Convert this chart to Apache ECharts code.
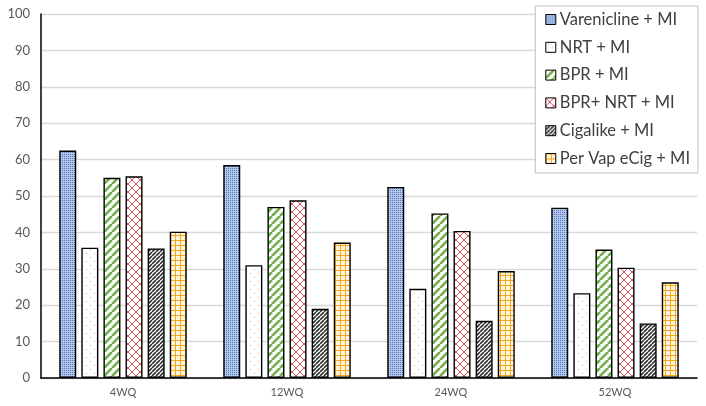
<!DOCTYPE html>
<html>
<head>
<meta charset="utf-8">
<script src="https://cdn.jsdelivr.net/npm/echarts@6/dist/echarts.min.js"></script>
<style>
  html, body { margin: 0; padding: 0; background: #fff; }
  #chart { width: 706px; height: 406px; }
</style>
</head>
<body>
<div id="chart"></div>
<script>
// categories and values
const categories = ['4WQ', '12WQ', '24WQ', '52WQ']
const seriesNames = ['Varenicline + MI', 'NRT + MI', 'BPR + MI', 'BPR+ NRT + MI', 'Cigalike + MI', 'Per Vap eCig + MI']
const vareniclineMI = [62.5, 58.5, 52.5, 46.8]
const nrtMI = [35.8, 31, 24.5, 23.3]
const bprMI = [55, 47, 45.2, 35.3]
const bprNrtMI = [55.4, 48.8, 40.4, 30.3]
const cigalikeMI = [35.6, 19, 15.7, 15]
const perVapMI = [40.2, 37.2, 29.4, 26.3]
const yTicks = [0, 10, 20, 30, 40, 50, 60, 70, 80, 90, 100]

// small canvases used as fill patterns (like the Excel pattern fills)
function makePattern(size, bg, draw) {
  const c = document.createElement('canvas')
  c.width = size
  c.height = size
  const ctx = c.getContext('2d')
  ctx.fillStyle = bg
  ctx.fillRect(0, 0, size, size)
  draw(ctx, size)
  return { image: c, repeat: 'repeat' }
}

const patterns = [
  // fine blue dots
  makePattern(2, '#b4c7e7', function (ctx) {
    ctx.fillStyle = '#4f76c6'
    ctx.fillRect(0, 0, 1, 1)
  }),
  // sparse orange dots on white
  makePattern(8, '#ffffff', function (ctx) {
    ctx.fillStyle = '#f0a060'
    ctx.fillRect(2, 1, 1, 1)
    ctx.fillRect(6, 5, 1, 1)
  }),
  // wide green diagonal stripes
  makePattern(8, '#ffffff', function (ctx, s) {
    ctx.strokeStyle = '#70ad47'
    ctx.lineWidth = 2.6
    ctx.beginPath()
    for (let k = -1; k <= 1; k++) {
      ctx.moveTo(k * s, s)
      ctx.lineTo(k * s + s, 0)
    }
    ctx.stroke()
  }),
  // red diagonal cross hatch
  makePattern(8, '#ffffff', function (ctx, s) {
    ctx.strokeStyle = '#d9535b'
    ctx.lineWidth = 1
    ctx.beginPath()
    ctx.moveTo(0, 0); ctx.lineTo(s, s)
    ctx.moveTo(0, s); ctx.lineTo(s, 0)
    ctx.stroke()
  }),
  // dense black diagonal stripes
  makePattern(4, '#ffffff', function (ctx, s) {
    ctx.strokeStyle = '#333333'
    ctx.lineWidth = 1.6
    ctx.beginPath()
    for (let k = -1; k <= 1; k++) {
      ctx.moveTo(k * s, s)
      ctx.lineTo(k * s + s, 0)
    }
    ctx.stroke()
  }),
  // orange grid
  makePattern(5, '#fff6dc', function (ctx, s) {
    ctx.fillStyle = '#f5a623'
    ctx.fillRect(0, 0, s, 1)
    ctx.fillRect(0, 0, 1, s)
  })
]

const values = [vareniclineMI, nrtMI, bprMI, bprNrtMI, cigalikeMI, perVapMI]

const myChart = echarts.init(document.getElementById('chart'))
const option = {
  animation: false,
  textStyle: { fontFamily: 'Lato, "Open Sans", sans-serif' },
  grid: { left: 41, right: 9, top: 14, bottom: 28 },
  legend: {
    orient: 'vertical',
    right: 8,
    top: 6,
    padding: [5, 8, 6, 10],
    itemGap: 10.8,
    itemWidth: 10,
    itemHeight: 10,
    icon: 'rect',
    itemStyle: { borderWidth: 1 },
    borderColor: '#bfbfbf',
    borderWidth: 1,
    backgroundColor: '#fff',
    textStyle: { fontSize: 16.5, color: '#404040', padding: [0, 0, 0, -1] },
    data: seriesNames
  },
  xAxis: {
    type: 'category',
    data: categories,
    axisLine: { lineStyle: { color: '#000', width: 1.5 } },
    axisTick: { show: false },
    axisLabel: { color: '#595959', fontSize: 11, margin: 9 }
  },
  yAxis: {
    type: 'value',
    min: 0,
    max: 100,
    interval: 10,
    axisLine: { show: true, lineStyle: { color: '#000', width: 1.5 } },
    axisTick: { show: false },
    axisLabel: {
      color: '#595959',
      fontSize: 13,
      margin: 11,
      formatter: function (v) { return yTicks.indexOf(v) >= 0 ? String(v) : '' }
    },
    splitLine: { lineStyle: { color: '#d9d9d9', width: 1.3 } }
  },
  series: seriesNames.map(function (name, i) {
    return {
      name: name,
      type: 'bar',
      data: values[i],
      barWidth: 17,
      barGap: '30%',
      itemStyle: {
        color: patterns[i],
        borderColor: '#000',
        borderWidth: 1.4
      }
    }
  })
}
myChart.setOption(option)
</script>
</body>
</html>
